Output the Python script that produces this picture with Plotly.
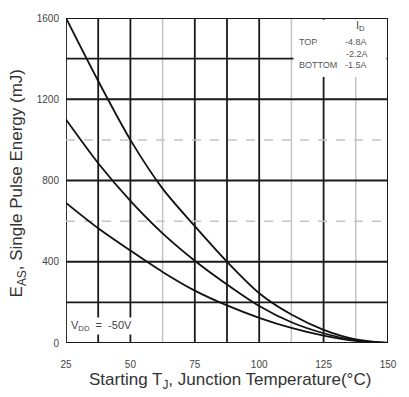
import plotly.graph_objects as go

# Data
temp_c = [25, 37.5, 50, 62.5, 75, 87.5, 100, 112.5, 125, 137.5, 150]
eas_top = [1600, 1290, 1000, 760, 575, 400, 245, 140, 65, 18, 0]
eas_mid = [1100, 885, 700, 540, 405, 288, 182, 102, 48, 13, 0]
eas_bot = [690, 565, 455, 350, 258, 185, 124, 74, 36, 10, 0]

x_ticks = [25, 50, 75, 100, 125, 150]
y_ticks = [0, 400, 800, 1200, 1600]

# Grid lines (value, dark?)
x_grid = [(25, True), (37.5, True), (50, True), (62.5, False), (75, True), (87.5, True),
          (100, True), (112.5, False), (125, True), (137.5, False), (150, True)]
y_grid = [(0, True), (200, True), (400, True), (600, False), (800, True), (1000, False),
          (1200, True), (1400, True), (1600, True)]

DARK = "#1a1a1a"
LIGHT = "#c4c4c4"

fig = go.Figure()
for ys in (eas_top, eas_mid, eas_bot):
    fig.add_trace(go.Scatter(x=temp_c, y=ys, mode="lines", line=dict(color="#111", width=1.8, shape="spline", smoothing=0.8),
                             showlegend=False, hoverinfo="skip"))

shapes = []
for v, dark in x_grid:
    shapes.append(dict(type="line", xref="x", yref="y", x0=v, x1=v, y0=0, y1=1600, layer="below",
                       line=dict(color=DARK if dark else LIGHT, width=1.8 if dark else 1.5)))
for v, dark in y_grid:
    shapes.append(dict(type="line", xref="x", yref="y", x0=25, x1=150, y0=v, y1=v, layer="below",
                       line=dict(color=DARK if dark else LIGHT, width=1.8 if dark else 1.5,
                                 dash="solid" if dark else "dash")))
# legend box (white area in upper right)
shapes.append(dict(type="rect", xref="x", yref="y", x0=113.3, x1=149.4, y0=1310, y1=1592, layer="below",
                   fillcolor="white", line=dict(width=0)))
shapes.append(dict(type="line", xref="x", yref="y", x0=150, x1=150, y0=0, y1=1600, layer="below",
                   line=dict(color=DARK, width=1.8)))

fig.update_layout(
    width=409, height=397,
    margin=dict(l=66, r=14, t=14, b=54),
    paper_bgcolor="white", plot_bgcolor="white",
    shapes=shapes,
    font=dict(family="Liberation Sans, Arial, sans-serif", color="#333"),
    xaxis=dict(range=[25, 150], tickvals=x_ticks, ticktext=[str(t) for t in x_ticks], showgrid=False,
               zeroline=False, showline=False, ticks="", tickfont=dict(size=10, color="#444"), ticklabelstandoff=14),
    yaxis=dict(range=[0, 1600], tickvals=y_ticks, ticktext=[str(t) for t in y_ticks], showgrid=False,
               zeroline=False, showline=False, ticks="", tickfont=dict(size=10, color="#444"), ticklabelstandoff=6),
)

ann = [
    dict(xref="paper", yref="paper", x=0.51, y=-0.118, yanchor="middle", xanchor="center",
         text="Starting T<sub>J</sub>, Junction Temperature(°C)", showarrow=False, font=dict(size=17, color="#333")),
    dict(xref="paper", yref="paper", x=-0.15, y=0.49, xanchor="center", yanchor="middle", textangle=-90,
         text="E<sub>AS</sub>, Single Pulse Energy (mJ)", showarrow=False, font=dict(size=17, color="#333")),
    dict(xref="x", yref="y", x=139.5, y=1560, text="I<sub>D</sub>", showarrow=False, font=dict(size=11, color="#444")),
    dict(xref="x", yref="y", x=114.5, y=1483, xanchor="left", text="TOP", showarrow=False, font=dict(size=9, color="#555")),
    dict(xref="x", yref="y", x=132.5, y=1483, xanchor="left", text="-4.8A", showarrow=False, font=dict(size=9, color="#555")),
    dict(xref="x", yref="y", x=133, y=1425, xanchor="left", text="-2.2A", showarrow=False, font=dict(size=9, color="#555")),
    dict(xref="x", yref="y", x=114.5, y=1367, xanchor="left", text="BOTTOM", showarrow=False, font=dict(size=9, color="#555")),
    dict(xref="x", yref="y", x=132.5, y=1367, xanchor="left", text="-1.5A", showarrow=False, font=dict(size=9, color="#555")),
    dict(xref="x", yref="y", x=26, y=85, xanchor="left", text="V<sub>DD</sub>  =  -50V", showarrow=False,
         bgcolor="white", font=dict(size=11, color="#444")),
]
fig.update_layout(annotations=ann)

fig.write_html("out.html")
